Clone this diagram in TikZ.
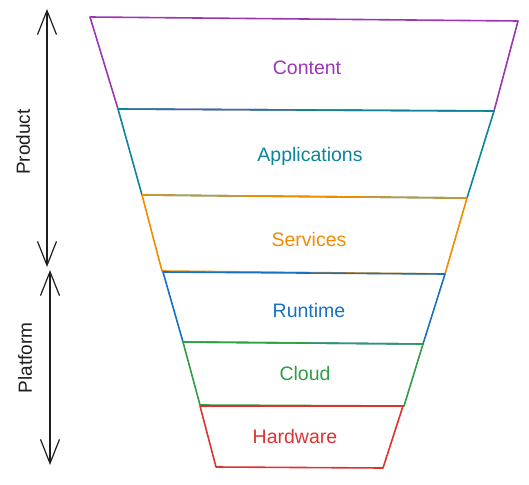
\documentclass[tikz,border=0pt]{standalone}
\usepackage{fontspec}
\setmainfont{Liberation Sans}
\usetikzlibrary{arrows.meta}
\definecolor{cviolet}{HTML}{9C36B5}
\definecolor{ccyan}{HTML}{0C8599}
\definecolor{corange}{HTML}{F08C00}
\definecolor{cblue}{HTML}{1971C2}
\definecolor{cgreen}{HTML}{2F9E44}
\definecolor{cred}{HTML}{E03131}
\definecolor{cink}{HTML}{1E1E1E}
\tikzset{
  layer/.style={line width=1.6pt, line join=round},
  lbl/.style={font=\fontsize{19.5}{22}\selectfont, inner sep=0pt},
  side/.style={font=\fontsize{19}{22}\selectfont, inner sep=0pt, rotate=90, text=cink},
  span/.style={line width=1.2pt, draw=cink, {Straight Barb[length=24pt,width=19pt]}-{Straight Barb[length=24pt,width=19pt]}}
}
\begin{document}
\begin{tikzpicture}[x=1pt,y=-1pt]
\useasboundingbox[fill=white] (0,0) rectangle (529,484);
% funnel layers
\draw[layer, cviolet] (90,17) -- (518,21) -- (494,111) -- (118,109) -- cycle;
\draw[layer, ccyan] (118,109) -- (494,111) -- (467,198) -- (142,195) -- cycle;
\draw[layer, corange] (142,195) -- (467,198) -- (445,274) -- (162,271) -- cycle;
\draw[layer, cblue] (163,272) -- (445,274) -- (423,344) -- (183,342) -- cycle;
\draw[layer, cgreen] (183,342) -- (423,344) -- (404,406) -- (200,405) -- cycle;
\draw[layer, cred] (200,406) -- (403,406) -- (383,468) -- (216,467) -- cycle;
% labels
\node[lbl, text=cviolet] (content) at (307,68) {Content};
\node[lbl, text=ccyan] (apps) at (310,156) {Applications};
\node[lbl, text=corange] (services) at (309,240) {Services};
\node[lbl, text=cblue] (runtime) at (309,311) {Runtime};
\node[lbl, text=cgreen] (cloud) at (305,374) {Cloud};
\node[lbl, text=cred] (hardware) at (295,437) {Hardware};
% side spans
\coordinate (ptop) at (47,9);
\coordinate (pbot) at (47,267);
\coordinate (qtop) at (50,270);
\coordinate (qbot) at (50,465);
\draw[span] (ptop) -- (pbot);
\draw[span] (qtop) -- (qbot);
\node[side] (product) at (23,142) {Product};
\node[side] (platform) at (25,358) {Platform};
\end{tikzpicture}
\end{document}
